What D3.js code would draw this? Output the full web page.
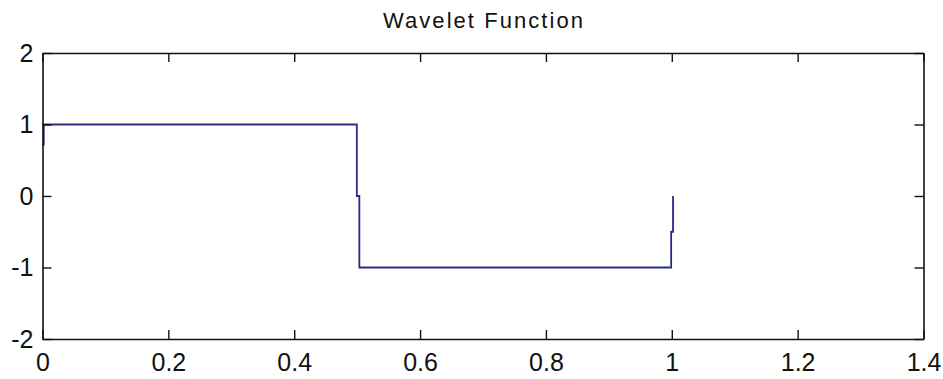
<!DOCTYPE html>
<html>
<head>
<meta charset="utf-8">
<script src="https://cdn.jsdelivr.net/npm/d3@7"></script>
<style>
  html, body { margin: 0; padding: 0; background: #ffffff; }
  svg { display: block; }
</style>
</head>
<body>
<script>
// ---- data ----
const titleText = "Wavelet Function";
const xValues = [0, 0.002, 0.002, 0.4995, 0.4995, 0.5035, 0.5035, 0.999, 0.999, 1.002, 1.002];
const yValues = [0.72, 0.72, 1, 1, 0, 0, -1, -1, -0.5, -0.5, 0];
const xTicks = [0, 0.2, 0.4, 0.6, 0.8, 1, 1.2, 1.4];
const yTicks = [-2, -1, 0, 1, 2];
const xDomain = [0, 1.4];
const yDomain = [-2, 2];

// ---- layout ----
const W = 943, H = 379;
const mLeft = 42.5, mRight = 923.5, mTop = 53, mBottom = 339;

const svg = d3.select("body").append("svg").attr("width", W).attr("height", H);

const x = d3.scaleLinear().domain(xDomain).range([mLeft, mRight]);
const y = d3.scaleLinear().domain(yDomain).range([mBottom, mTop]);

const font = "'Liberation Sans', Arial, Helvetica, sans-serif";

// data line
const pts = xValues.map((v, i) => [v, yValues[i]]);
svg.append("path")
  .datum(pts)
  .attr("fill", "none")
  .attr("stroke", "#2a2a88")
  .attr("stroke-width", 1.8)
  .attr("d", d3.line().x(d => x(d[0])).y(d => y(d[1])));

function styleAxis(g) {
  g.select(".domain").attr("stroke", "#111").attr("stroke-width", 1.6).attr("fill", "none");
  g.selectAll(".tick line").attr("stroke", "#111").attr("stroke-width", 1.4);
  g.selectAll(".tick text").attr("fill", "#111").attr("font-family", font).attr("font-size", 25);
}

const fmt = d => String(d);

// bottom
svg.append("g").attr("transform", `translate(0,${mBottom})`)
  .call(d3.axisBottom(x).tickValues(xTicks).tickFormat(fmt).tickSizeInner(-9).tickSizeOuter(0).tickPadding(14))
  .call(styleAxis);
// top
svg.append("g").attr("transform", `translate(0,${mTop})`)
  .call(d3.axisTop(x).tickValues(xTicks).tickFormat("").tickSizeInner(-9).tickSizeOuter(0))
  .call(styleAxis);
// left
svg.append("g").attr("transform", `translate(${mLeft},0)`)
  .call(d3.axisLeft(y).tickValues(yTicks).tickFormat(fmt).tickSizeInner(-9).tickSizeOuter(0).tickPadding(9))
  .call(styleAxis);
// right
svg.append("g").attr("transform", `translate(${mRight},0)`)
  .call(d3.axisRight(y).tickValues(yTicks).tickFormat("").tickSizeInner(-9).tickSizeOuter(0))
  .call(styleAxis);

// title
svg.append("text")
  .attr("x", (mLeft + mRight) / 2)
  .attr("y", 28)
  .attr("text-anchor", "middle")
  .attr("font-family", font)
  .attr("font-size", 22)
  .attr("fill", "#111")
  .attr("textLength", 200)
  .attr("lengthAdjust", "spacing")
  .text(titleText);
</script>
</body>
</html>
